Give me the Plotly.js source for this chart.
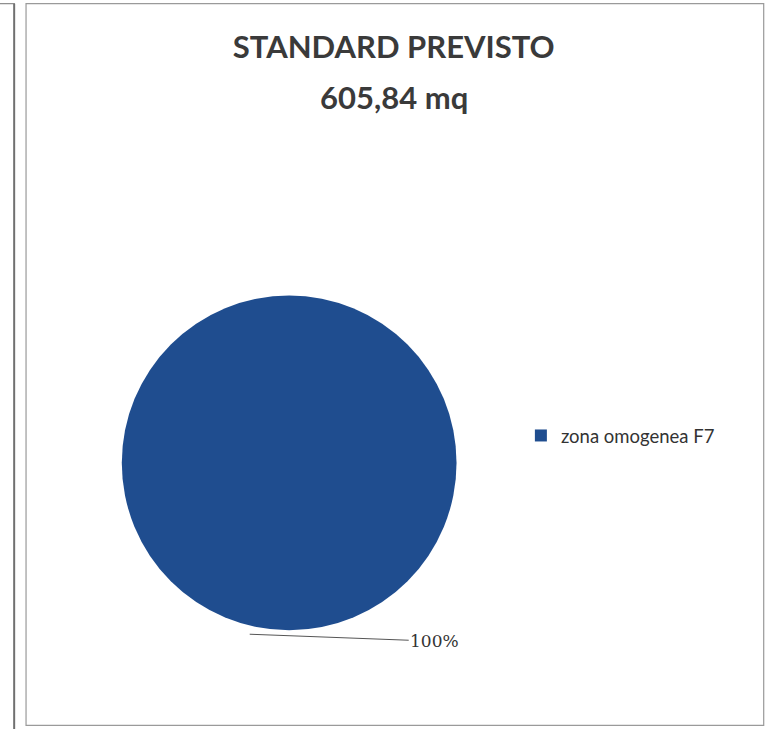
<!DOCTYPE html>
<html>
<head>
<meta charset="utf-8">
<script src="https://cdn.plot.ly/plotly-3.0.1.min.js"></script>
<style>
html,body{margin:0;padding:0;background:#fff;}
#chart{width:766px;height:729px;}
</style>
</head>
<body>
<div id="chart"></div>
<script>
const titleLines = ["STANDARD PREVISTO", "605,84 mq"];
const categories = ["zona omogenea F7"];
const values = [605.84];
const colors = ["#1f4d8f"];

const total = values.reduce((a, b) => a + b, 0);
const pctLabels = values.map(v => Math.round(v / total * 100) + "%");

const data = [{
  type: "pie",
  labels: categories,
  values: values,
  marker: {colors: colors, line: {color: colors[0], width: 0}},
  textinfo: "none",
  hoverinfo: "label+percent",
  sort: false,
  direction: "clockwise",
  rotation: 0,
  domain: {x: [0.159, 0.596], y: [0.128, 0.602]}
}];

const titleFont = {family: "Lato, 'Open Sans', sans-serif", size: 31, color: "#3a3a3a"};

const layout = {
  width: 766,
  height: 729,
  margin: {l: 0, r: 0, t: 0, b: 0},
  paper_bgcolor: "#ffffff",
  plot_bgcolor: "#ffffff",
  showlegend: true,
  title: {
    text: "<b>" + titleLines[0] + "</b>",
    font: titleFont,
    x: 0.514, xanchor: "center",
    y: 0.935, yanchor: "middle"
  },
  legend: {
    x: 0.68, y: 0.402, xanchor: "left", yanchor: "middle",
    font: {family: "Lato, 'Open Sans', sans-serif", size: 18.5, color: "#333333"},
    bgcolor: "rgba(0,0,0,0)",
    itemwidth: 30
  },
  annotations: [
    {
      text: "<b>" + titleLines[1] + "</b>",
      xref: "paper", yref: "paper",
      x: 0.514, y: 0.867, xanchor: "center", yanchor: "middle",
      showarrow: false,
      font: titleFont
    },
    {
      text: pctLabels[0],
      xref: "paper", yref: "paper",
      x: 0.326, y: 0.13, xanchor: "center", yanchor: "middle",
      showarrow: true, arrowhead: 0, arrowwidth: 1, arrowcolor: "#555555",
      ax: 185, ay: 7,
      standoff: 0,
      font: {family: "'DejaVu Serif', 'Liberation Serif', serif", size: 17, color: "#333333"}
    }
  ],
  shapes: [
    {type: "line", xref: "paper", yref: "paper", x0: 0.0, x1: 0.0195, y0: 0.995, y1: 0.995, line: {color: "#8a8a8a", width: 1.2}},
    {type: "line", xref: "paper", yref: "paper", x0: 0.0185, x1: 0.0185, y0: 0.995, y1: 0, line: {color: "#707070", width: 2}},
    {type: "rect", xref: "paper", yref: "paper", x0: 0.034, x1: 0.997, y0: 0.005, y1: 0.995, line: {color: "#9a9a9a", width: 1.2}, fillcolor: "rgba(0,0,0,0)"}
  ]
};

Plotly.newPlot("chart", data, layout, {displayModeBar: false, staticPlot: true});
</script>
</body>
</html>
